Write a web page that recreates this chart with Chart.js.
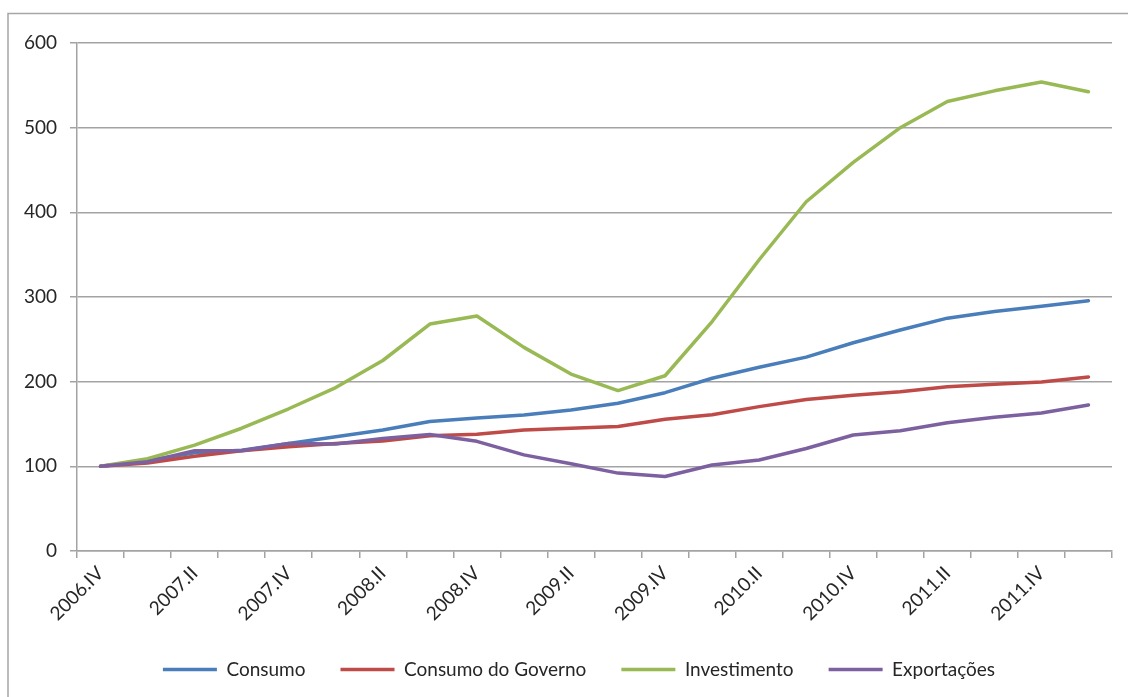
<!DOCTYPE html>
<html>
<head>
<meta charset="utf-8">
<script src="https://cdn.jsdelivr.net/npm/chart.js@4/dist/chart.umd.min.js"></script>
<style>
  html, body { margin: 0; padding: 0; background: #fff; }
  #wrap { position: relative; width: 1128px; height: 697px; }
</style>
</head>
<body>
<div id="wrap"><canvas id="c" width="1128" height="697"></canvas></div>
<script>
const categories = ['2006.IV','2007.I','2007.II','2007.III','2007.IV','2008.I','2008.II','2008.III','2008.IV','2009.I','2009.II','2009.III','2009.IV','2010.I','2010.II','2010.III','2010.IV','2011.I','2011.II','2011.III','2011.IV','2012.I'];
const consumo = [100,106.5,116,119,127,135,143,153,157,160.5,166.5,174.5,187,204,217,229,246,261,275,283,289,295.5];
const consumoGoverno = [100,104,112,118.5,123,127,130,136,138,143,145,147,155.5,161,170.5,179,184,188,194,197,199.5,205.5];
const investimento = [100,109,125,145,168,193,225,268,277.5,240.5,209,189.5,207,271,344,412.5,459,500,531,543.5,554,542.5];
const exportacoes = [100,105.5,118.5,118.5,127,126.5,133,137.5,129.5,113.5,103,92,88,101.5,107.5,121,137,142,151.5,158,163,172.5];
const seriesNames = ['Consumo','Consumo do Governo','Investimento','Exportações'];
const yTicks = [0,100,200,300,400,500,600];

const FONT = 'Lato, "Open Sans", sans-serif';
const GRID = '#a3a3a3';
const TEXT = '#262626';

const borderPlugin = {
  id: 'outerBorder',
  afterLayout(chart) {
    if (chart.legend) {
      chart.legend.left += 23;
      chart.legend.right += 23;
    }
  },
  beforeDraw(chart) {
    const ctx = chart.ctx;
    ctx.save();
    ctx.fillStyle = '#fff';
    ctx.fillRect(0, 0, chart.width, chart.height);
    ctx.strokeStyle = '#a6a6a6';
    ctx.lineWidth = 1.5;
    ctx.beginPath();
    ctx.moveTo(8, 697);
    ctx.lineTo(8, 13.5);
    ctx.lineTo(1128, 13.5);
    ctx.stroke();
    ctx.restore();
  }
};

function ds(label, data, color, order) {
  return {
    label, data,
    borderColor: color, backgroundColor: color,
    borderWidth: 3.5, pointRadius: 0, pointHoverRadius: 0,
    tension: 0, fill: false, order,
    borderJoinStyle: 'round', borderCapStyle: 'round'
  };
}

new Chart(document.getElementById('c'), {
  type: 'line',
  data: {
    labels: categories,
    datasets: [
      ds(seriesNames[0], consumo, '#4a7ebb', 3),
      ds(seriesNames[1], consumoGoverno, '#be4b48', 2),
      ds(seriesNames[2], investimento, '#98b954', 1),
      ds(seriesNames[3], exportacoes, '#7d60a0', 0)
    ]
  },
  options: {
    responsive: false,
    animation: false,
    events: [],
    layout: { padding: { top: 43, right: 16, left: 0, bottom: 8 } },
    plugins: {
      tooltip: { enabled: false },
      legend: {
        position: 'bottom',
        labels: {
          font: { family: FONT, size: 19 },
          color: TEXT,
          usePointStyle: true,
          pointStyle: 'line',
          pointStyleWidth: 54,
          padding: 35,
          sort: (a, b) => a.datasetIndex - b.datasetIndex
        }
      }
    },
    scales: {
      x: {
        type: 'category',
        offset: true,
        grid: { offset: true, drawOnChartArea: false, drawTicks: true, tickLength: 7, color: GRID, lineWidth: 1.5 },
        border: { color: GRID, width: 1.5 },
        ticks: {
          autoSkip: false,
          minRotation: 45, maxRotation: 45,
          padding: 4,
          color: TEXT,
          font: { family: FONT, size: 19 },
          callback: (v, i) => (i % 2 === 0 ? categories[i] : '')
        },
        afterFit: s => { s.height = 74; }
      },
      y: {
        min: 0, max: 600,
        afterBuildTicks: s => { s.ticks = yTicks.map(v => ({ value: v })); },
        grid: { color: GRID, lineWidth: 1.5, tickLength: 7 },
        border: { color: GRID, width: 1.5 },
        ticks: {
          padding: 13,
          color: TEXT,
          font: { family: FONT, size: 19 }
        },
        afterFit: s => { s.width = 77; }
      }
    }
  },
  plugins: [borderPlugin]
});
</script>
</body>
</html>
